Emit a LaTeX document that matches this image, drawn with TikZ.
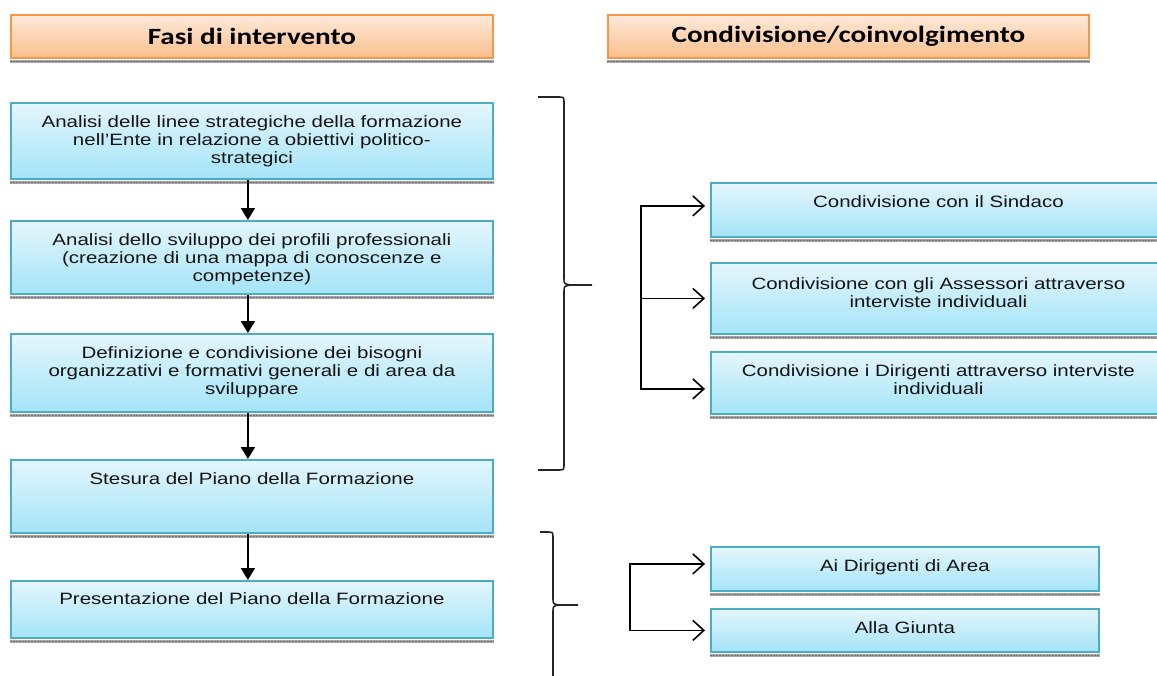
\documentclass[tikz,border=0pt]{standalone}
\usepackage{fontspec}
\setmainfont{Liberation Sans}[FakeStretch=1.25]
\newfontfamily\hdrfont{Carlito}[FakeStretch=1.25]
\usetikzlibrary{arrows.meta}

\definecolor{hdrtop}{HTML}{FDEADB}
\definecolor{hdrbot}{HTML}{FBBF8C}
\definecolor{hdrline}{HTML}{F79646}
\definecolor{boxtop}{HTML}{E4F6FC}
\definecolor{boxbot}{HTML}{A4E4F8}
\definecolor{boxline}{HTML}{4BACC6}
\definecolor{stripgray}{HTML}{A6A6A6}

% gray dotted band drawn under every box
\newcommand\shadestrip[1]{%
  \fill[stripgray] ([yshift=-1.2pt]#1.south west) rectangle ([yshift=-4.5pt]#1.south east);
  \draw[black!55, line width=1.2pt, dash pattern=on 1.5pt off 1.5pt]
    ([yshift=-2.8pt]#1.south west) -- ([yshift=-2.8pt]#1.south east);}

\begin{document}
\begin{tikzpicture}[x=1pt, y=-1pt,
  hdrbox/.style={draw=hdrline, line width=1.8pt, top color=hdrtop, bottom color=hdrbot,
    anchor=north west, inner sep=0pt, font=\hdrfont\bfseries\fontsize{23.3}{26}\selectfont},
  bluebox/.style={draw=boxline, line width=1.8pt, top color=boxtop, bottom color=boxbot,
    anchor=north west, inner sep=0pt},
  boxtext/.style={anchor=north, inner sep=0pt, align=center, text=black!92,
    font=\fontsize{16.4}{18}\selectfont},
  flow/.style={draw=black, line width=2pt, -{Triangle[length=12pt,width=14pt]}},
  branch/.style={draw=black, line width=1.6pt,
    {Straight Barb[length=11pt,width=20pt,line width=1.6pt]}-{Straight Barb[length=11pt,width=20pt,line width=1.6pt]}},
  branchone/.style={draw=black, line width=1.2pt,
    -{Straight Barb[length=11pt,width=20pt,line width=1.6pt]}},
  bracepath/.style={draw=black!85, line width=1.6pt, line join=round}]
\useasboundingbox (0,0) rectangle (1157,675);
\clip (0,0) rectangle (1157,675);

% column headers
\node[hdrbox, minimum width=482pt, minimum height=43pt] (h1) at (10,14) {Fasi di intervento};
\node[hdrbox, minimum width=481pt, minimum height=43pt] (h2) at (607,14) {Condivisione/coinvolgimento};

% phases
\node[bluebox, minimum width=482pt, minimum height=76pt] (b1) at (10,102) {};
\node[bluebox, minimum width=482pt, minimum height=73pt] (b2) at (10,220) {};
\node[bluebox, minimum width=482pt, minimum height=78pt] (b3) at (10,333) {};
\node[bluebox, minimum width=482pt, minimum height=73pt] (b4) at (10,459) {};
\node[bluebox, minimum width=482pt, minimum height=57pt] (b5) at (10,580) {};

% sharing / involvement
\node[bluebox, minimum width=455pt, minimum height=54pt] (r1) at (710,182) {};
\node[bluebox, minimum width=455pt, minimum height=71pt] (r2) at (710,262) {};
\node[bluebox, minimum width=455pt, minimum height=62pt] (r3) at (710,351) {};
\node[bluebox, minimum width=388pt, minimum height=44pt] (r4) at (710,546) {};
\node[bluebox, minimum width=388pt, minimum height=43pt] (r5) at (710,608) {};

\foreach \n in {h1,h2,b1,b2,b3,b4,b5,r1,r2,r3,r4,r5} {\shadestrip{\n}}

% box texts
\node[boxtext] (t1) at ([yshift=-13.5pt]b1.north) {Analisi delle linee strategiche della formazione\\nell'Ente in relazione a obiettivi politico-\\strategici};
\node[boxtext] (t2) at ([yshift=-13.5pt]b2.north) {Analisi dello sviluppo dei profili professionali\\(creazione di una mappa di conoscenze e\\competenze)};
\node[boxtext] (t3) at ([yshift=-13.5pt]b3.north) {Definizione e condivisione dei bisogni\\organizzativi e formativi generali e di area da\\sviluppare};
\node[boxtext] (t4) at ([yshift=-13pt]b4.north) {Stesura del Piano della Formazione};
\node[boxtext] (t5) at ([yshift=-12.5pt]b5.north) {Presentazione del Piano della Formazione};
\node[boxtext] (t6) at ([yshift=-13pt]r1.north) {Condivisione con il Sindaco};
\node[boxtext] (t7) at ([yshift=-15pt]r2.north) {Condivisione con gli Assessori attraverso\\interviste individuali};
\node[boxtext] (t8) at ([yshift=-13pt]r3.north) {Condivisione i Dirigenti attraverso interviste\\individuali};
\node[boxtext] (t9) at ([yshift=-13pt]r4.north) {Ai Dirigenti di Area};
\node[boxtext] (t10) at ([yshift=-13pt]r5.north) {Alla Giunta};

% sequence of phases
\draw[flow] ([xshift=-4pt]b1.south) -- ([xshift=-4pt]b2.north);
\draw[flow] ([xshift=-4pt]b2.south) -- ([xshift=-4pt]b3.north);
\draw[flow] ([xshift=-4pt]b3.south) -- ([xshift=-4pt]b4.north);
\draw[flow] ([xshift=-4pt]b4.south) -- ([xshift=-4pt]b5.north);

% branching to the people involved
\coordinate (ja) at (641,0);
\coordinate (jb) at (630,0);
\draw[branch] ([xshift=-5pt,yshift=4pt]r1.west) -- ([yshift=4pt]r1.west -| ja)
  -- ([yshift=-6pt]r3.west -| ja) -- ([xshift=-5pt,yshift=-6pt]r3.west);
\draw[branchone] (r2.west -| ja) -- ([xshift=-5pt]r2.west);
\draw[branch] ([xshift=-5pt,yshift=5pt]r4.west) -- ([yshift=5pt]r4.west -| jb)
  -- (r5.west -| jb) -- ([xshift=-5pt]r5.west);

% curly braces grouping the phases
\draw[bracepath] (538,97) -- (558,97) .. controls (564,97) .. (564,103) -- (564,278)
  .. controls (564,284) .. (571,285) -- (592,285);
\draw[bracepath] (571,285) .. controls (564,286) .. (564,292) -- (564,464)
  .. controls (564,470) .. (558,470) -- (538,470);
\draw[bracepath] (540,532) -- (547,532) .. controls (553,532) .. (553,538) -- (553,598)
  .. controls (553,604) .. (559,605) -- (578,605);
\draw[bracepath] (559,605) .. controls (553,606) .. (553,612) -- (553,680);
\end{tikzpicture}
\end{document}
